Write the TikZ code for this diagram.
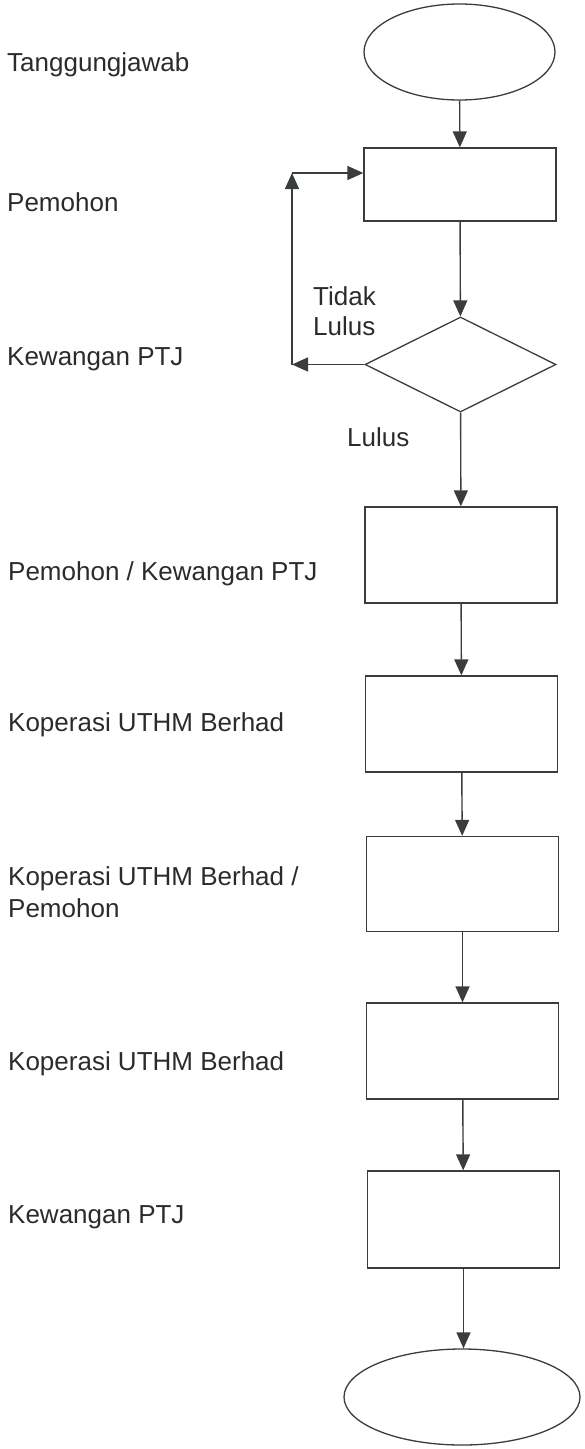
\documentclass[tikz,border=0pt]{standalone}
\usepackage{fontspec}
\setmainfont{Liberation Sans}
\usetikzlibrary{shapes.geometric,arrows.meta,calc}
\definecolor{ln}{HTML}{3A3D3E}
\definecolor{tx}{HTML}{2B2B2B}
\begin{document}
\begin{tikzpicture}[x=1pt,y=-1pt,
  shp/.style={draw=ln,line width=1.3pt,inner sep=0pt},
  stepbox/.style={shp,rectangle,minimum width=192pt,minimum height=96pt},
  term/.style={shp,ellipse,minimum height=96pt},
  arr/.style={draw=ln,line width=1.4pt,-{Triangle[length=16pt,width=14pt]}},
  lab/.style={anchor=base west,inner sep=0pt,text=tx,font=\fontsize{26}{30}\selectfont}]
\useasboundingbox (0,0) rectangle (585,1449);
% shapes
\node[term,minimum width=191pt] (e1) at (459.5,52) {};
\node[stepbox,minimum height=73pt] (b1) at (460,184.5) {};
\node[shp,diamond,minimum width=191pt,minimum height=95pt] (d) at (460.5,364.5) {};
\node[stepbox] (b2) at (461,555) {};
\node[stepbox] (b3) at (461.5,724) {};
\node[stepbox,minimum height=95pt] (b4) at (462.5,884) {};
\node[stepbox] (b5) at (462.5,1051) {};
\node[stepbox,minimum height=97pt] (b6) at (463.5,1219.5) {};
\node[term,minimum width=236pt] (e2) at (462,1397) {};
% loop corners
\coordinate (c1) at (292,364.5);
\coordinate (c2) at (292,173);
% connectors
\draw[arr] (e1) -- (b1);
\draw[arr] (b1) -- (d);
\draw[arr] (d.west) -- (c1);
\draw[arr] (c1) -- (c2);
\draw[arr] (c2) -- (c2 -| b1.west);
\draw[arr] (d) -- (b2);
\draw[arr] (b2) -- (b3);
\draw[arr] (b3) -- (b4);
\draw[arr] (b4) -- (b5);
\draw[arr] (b5) -- (b6);
\draw[arr] (b6) -- (b6 |- e2.north);
% labels
\node[lab] (l1) at (7,71.7) {Tanggungjawab};
\node[lab] (l2) at (7,211.7) {Pemohon};
\node[lab] (l3) at (7,365) {Kewangan PTJ};
\node[lab] (l4) at (8,580) {Pemohon / Kewangan PTJ};
\node[lab] (l5) at (8,731.7) {Koperasi UTHM Berhad};
\node[lab] (l6a) at (8,885) {Koperasi UTHM Berhad /};
\node[lab] (l6b) at (8,917) {Pemohon};
\node[lab] (l7) at (8,1070) {Koperasi UTHM Berhad};
\node[lab] (l8) at (8,1223) {Kewangan PTJ};
\node[lab] (t1) at (313,305) {Tidak};
\node[lab] (t2) at (313,335) {Lulus};
\node[lab] (t3) at (347,446.7) {Lulus};
\end{tikzpicture}
\end{document}
